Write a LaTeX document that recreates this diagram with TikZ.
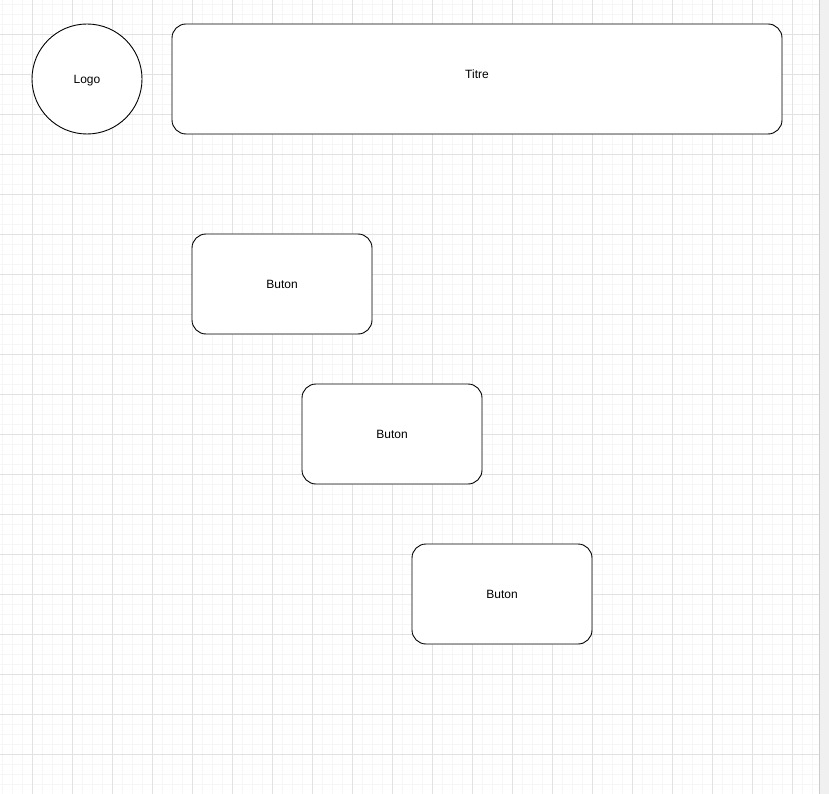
\documentclass[tikz,border=0pt]{standalone}
\usepackage{fontspec}
\setmainfont{Liberation Sans}
\usetikzlibrary{positioning}

\definecolor{minorgrid}{HTML}{F6F6F6}
\definecolor{majorgrid}{HTML}{E2E2E2}
\definecolor{sidebar}{HTML}{F0F0F0}

\begin{document}
\begin{tikzpicture}[x=1pt, y=-1pt]
    \tikzstyle{box} = [rectangle, rounded corners=14pt, draw=black, line width=0.9pt, fill=white, text centered, font=\fontsize{12}{14}\selectfont]
    \tikzstyle{rond} = [circle, draw=black, line width=0.9pt, fill=white, minimum size=110pt, inner sep=0pt, font=\fontsize{12}{14}\selectfont]
    \useasboundingbox (0,0) rectangle (829,794);
    \fill[white] (0,0) rectangle (819,794);
    % grid
    \foreach \x in {2,12,...,812} \draw[minorgrid, line width=0.8pt] (\x,0) -- (\x,794);
    \foreach \y in {4,14,...,794} \draw[minorgrid, line width=0.8pt] (0,\y) -- (819,\y);
    \foreach \x in {32,72,...,812} \draw[majorgrid, line width=0.8pt] (\x,0) -- (\x,794);
    \foreach \y in {34,74,...,794} \draw[majorgrid, line width=0.8pt] (0,\y) -- (819,\y);
    \fill[sidebar] (819,0) rectangle (829,794);
    \draw[gray!40, line width=1pt] (819.5,0) -- (819.5,794);
    % shapes
    \node (logo) [rond, text height=13pt, text depth=3pt] at (87,79) {Logo};
    \node (titre) [box, minimum width=610pt, minimum height=110pt, text height=5pt, text depth=5pt] at (477,79) {Titre};
    \node (btnA) [box, minimum width=180pt, minimum height=100pt] at (282,284) {Buton};
    \node (btnB) [box, minimum width=180pt, minimum height=100pt] at (392,434) {Buton};
    \node (btnC) [box, minimum width=180pt, minimum height=100pt] at (502,594) {Buton};
\end{tikzpicture}
\end{document}
